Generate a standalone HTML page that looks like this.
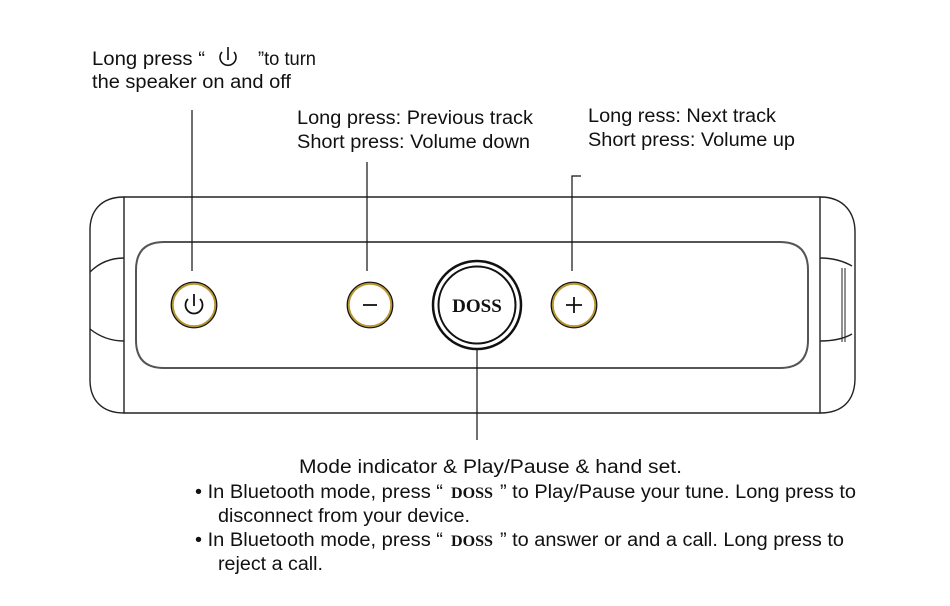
<!DOCTYPE html>
<html><head><meta charset="utf-8"><style>
html,body{margin:0;padding:0;background:#fff;}
svg{display:block;}
text{font-family:"Liberation Sans",Arial,sans-serif;font-size:19px;fill:#111;}
.d{font-family:"Liberation Serif",serif;font-weight:bold;}
</style></head><body>
<svg width="950" height="606" viewBox="0 0 950 606" xmlns="http://www.w3.org/2000/svg">
<g fill="none" stroke="#222" stroke-width="1.4">
<path d="M124,197 H820 M124,413 H820"/>
<path d="M124,197 C100,197 90,212 90,230 V380 C90,400 102,413 124,413 Z"/>
<path d="M820,197 C845,197 855,214 855,232 V378 C855,400 843,413 820,413 Z"/>
<path d="M90,272 C100,262 112,258 124,258 M90,329 C100,337 112,341 124,341"/>
<path d="M820,258 C835,258 845,262 852,266 M820,341 C835,341 845,338 852,334"/>
<path d="M842,268 V342 M845,268 V342" stroke-width="1"/>
<path d="M164,242 H780 Q808,242 808,270 V340 Q808,368 780,368 H164 Q136,368 136,340 V270 Q136,242 164,242 Z" stroke="#555" stroke-width="2"/>
</g>
<g stroke="#111" stroke-width="1.2" fill="none">
<path d="M192,110 V271"/>
<path d="M367,162 V271"/>
<path d="M572,271 V176 H581"/>
<path d="M477,350 V440"/>
</g>
<g fill="#fff" stroke="#b8962e" stroke-width="2.5">
<circle cx="194" cy="305" r="21.5"/>
<circle cx="370" cy="305" r="21.5"/>
<circle cx="574" cy="305" r="21.5"/>
</g>
<g fill="none" stroke="#111" stroke-width="1.2">
<circle cx="194" cy="305" r="22.8"/>
<circle cx="370" cy="305" r="22.8"/>
<circle cx="574" cy="305" r="22.8"/>
</g>
<g fill="none" stroke="#111" stroke-width="1.8">
<path d="M188,299 A8.5,8.5 0 1 0 200,299"/>
<path d="M194,294 V306"/>
<path d="M363,305 H377"/>
<path d="M574,297 V313 M566,305 H582"/>
</g>
<circle cx="477" cy="305" r="44" fill="#fff" stroke="#111" stroke-width="2.5"/>
<circle cx="477" cy="305" r="38.5" fill="none" stroke="#111" stroke-width="2"/>
<text x="477" y="312" text-anchor="middle" class="d" style="font-size:19px">DOSS</text>
<text x="92" y="65" textLength="113" lengthAdjust="spacingAndGlyphs">Long press “</text>
<path d="M222,52 A8,8 0 1 0 234,52" fill="none" stroke="#111" stroke-width="1.6"/>
<path d="M228,47 V60" stroke="#111" stroke-width="1.6"/>
<text x="258" y="65" textLength="58" lengthAdjust="spacingAndGlyphs">”to turn</text>
<text x="92" y="88" textLength="199" lengthAdjust="spacingAndGlyphs">the speaker on and off</text>
<text x="297" y="124" textLength="236" lengthAdjust="spacingAndGlyphs">Long press: Previous track</text>
<text x="297" y="148" textLength="233" lengthAdjust="spacingAndGlyphs">Short press: Volume down</text>
<text x="588" y="122" textLength="188" lengthAdjust="spacingAndGlyphs">Long ress: Next track</text>
<text x="588" y="146" textLength="207" lengthAdjust="spacingAndGlyphs">Short press: Volume up</text>
<text x="299" y="473" textLength="383" lengthAdjust="spacingAndGlyphs">Mode indicator &amp; Play/Pause &amp; hand set.</text>
<text x="195" y="498" textLength="248" lengthAdjust="spacingAndGlyphs">• In Bluetooth mode, press “</text>
<text x="451" y="498" class="d" style="font-size:16px" textLength="42" lengthAdjust="spacingAndGlyphs">DOSS</text>
<text x="500" y="498" textLength="356" lengthAdjust="spacingAndGlyphs">” to Play/Pause your tune. Long press to</text>
<text x="218" y="522" textLength="252" lengthAdjust="spacingAndGlyphs">disconnect from your device.</text>
<text x="195" y="546" textLength="248" lengthAdjust="spacingAndGlyphs">• In Bluetooth mode, press “</text>
<text x="451" y="546" class="d" style="font-size:16px" textLength="42" lengthAdjust="spacingAndGlyphs">DOSS</text>
<text x="500" y="546" textLength="344" lengthAdjust="spacingAndGlyphs">” to answer or and a call. Long press to</text>
<text x="218" y="570" textLength="105" lengthAdjust="spacingAndGlyphs">reject a call.</text>
</svg>
</body></html>
